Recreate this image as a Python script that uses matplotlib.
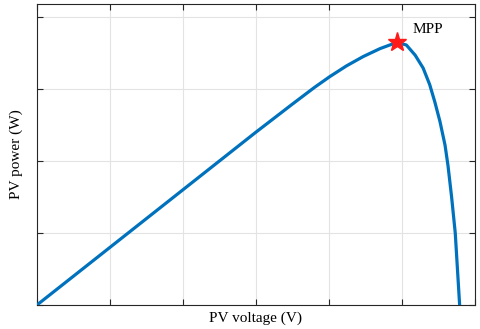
import matplotlib
matplotlib.use('Agg')
import matplotlib.pyplot as plt

# PV curve (arbitrary units)
voltage = [0.0, 1.0, 2.0, 3.0, 3.5, 3.8, 4.01, 4.24, 4.47, 4.7, 4.86, 4.95,
           5.06, 5.18, 5.29, 5.38, 5.45, 5.52, 5.59, 5.63, 5.68, 5.73,
           5.76, 5.79]
power = [0.0, 0.8, 1.6, 2.4, 2.79, 3.02, 3.17, 3.32, 3.45, 3.56, 3.62, 3.64,
         3.61, 3.47, 3.29, 3.06, 2.82, 2.55, 2.22, 1.94, 1.5, 1.0,
         0.5, 0.0]
mpp_v, mpp_p = 4.93, 3.65
x_ticks = [0, 1, 2, 3, 4, 5, 6]
y_ticks = [0, 1, 2, 3, 4]

plt.rcParams['font.family'] = ['Liberation Serif', 'DejaVu Serif']

fig = plt.figure(figsize=(4.8, 3.29), dpi=100)
ax = fig.add_axes([0.077, 0.073, 0.9125, 0.915])

ax.plot(voltage, power, color='#0072BD', linewidth=2.3, zorder=3,
        solid_joinstyle='round')
ax.plot(mpp_v, mpp_p, marker='*', color='#FF1A1A', markersize=14,
        markeredgecolor='#FF1A1A', zorder=4)
ax.text(mpp_v + 0.21, mpp_p + 0.17, 'MPP', fontsize=11, va='center', ha='left')

ax.set_xlim(0, 6)
ax.set_ylim(0, 4.18)
ax.set_xticks(x_ticks)
ax.set_yticks(y_ticks)
ax.set_xticklabels([])
ax.set_yticklabels([])
ax.tick_params(direction='in', length=4, width=0.8, color='#262626',
               top=True, right=True, pad=0)
ax.grid(True, color='#e3e3e3', linewidth=0.8)
ax.set_axisbelow(True)
for s in ax.spines.values():
    s.set_color('#262626')
    s.set_linewidth(0.8)

ax.set_xlabel('PV voltage (V)', fontsize=11)
ax.set_ylabel('PV power (W)', fontsize=11)
ax.xaxis.set_label_coords(0.5, -0.022)
ax.yaxis.set_label_coords(-0.033, 0.5)

fig.savefig('out.png', dpi=100)
